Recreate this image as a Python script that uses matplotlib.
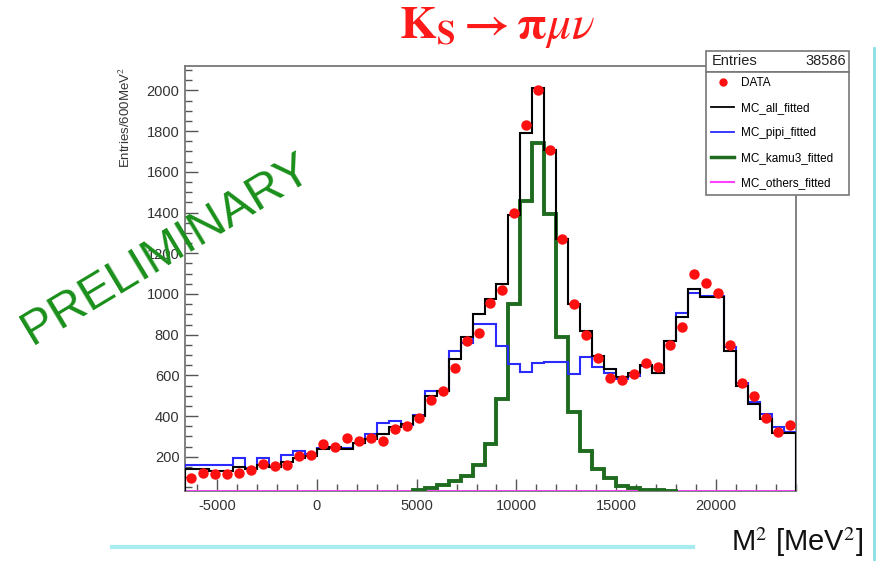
import numpy as np
import matplotlib.pyplot as plt
from matplotlib.lines import Line2D
from matplotlib.patches import Rectangle
from matplotlib.ticker import MultipleLocator

plt.rcParams['font.family'] = ['Liberation Sans', 'DejaVu Sans']
plt.rcParams['mathtext.fontset'] = 'stix'
plt.rcParams['axes.unicode_minus'] = False

# histogram binning (MeV^2)
bin_lo = -6600
bin_width = 600
n_bins = 51

data = [98, 122, 115, 115, 118, 134, 164, 155, 160, 205, 208, 262, 246,
        292, 278, 290, 278, 336, 352, 393, 478, 521, 636, 770, 808, 954,
        1018, 1397, 1828, 2003, 1705, 1270, 952, 798, 685, 587, 577, 606,
        660, 639, 751, 839, 1100, 1052, 1003, 751, 565, 500, 393, 324, 356]

mc_all = [140, 140, 128, 128, 150, 140, 160, 150, 175, 195, 205, 240, 246,
          237, 270, 287, 311, 344, 360, 401, 500, 524, 680, 787, 900, 975,
          1049, 1390, 1790, 2013, 1705, 1270, 950, 816, 697, 631, 593, 614,
          652, 614, 767, 885, 1025, 983, 983, 721, 549, 459, 385, 319, 319]

mc_pipi = [160, 160, 160, 160, 196, 145, 193, 150, 210, 230, 215, 242, 242,
           245, 270, 310, 365, 375, 355, 405, 522, 525, 720, 760, 852, 852,
           744, 656, 619, 659, 664, 664, 606, 688, 639, 614, 582, 598, 647,
           614, 767, 905, 1005, 990, 990, 741, 565, 467, 410, 344, 324]

mc_kamu3 = [0, 0, 0, 0, 0, 0, 0, 0, 0, 0, 0, 0, 0, 0, 0, 0, 0, 0, 0,
            36, 46, 60, 80, 105, 159, 262, 484, 951, 1459, 1741, 1393, 787,
            422, 229, 139, 95, 57, 45, 38, 35, 34, 0, 0, 0, 0, 0, 0, 0, 0, 0, 0]

mc_others = [33] * n_bins

entries = 38586

edges = bin_lo + bin_width * np.arange(n_bins + 1)
centers = 0.5 * (edges[:-1] + edges[1:])

fig = plt.figure(figsize=(8.79, 5.61), dpi=100)
ax = fig.add_axes([185 / 879, 1 - 491 / 561, 611 / 879, 425 / 561])

ax.stairs(mc_others, edges, color='#ff40ff', lw=2, zorder=2.7)
ax.stairs(mc_kamu3, edges, color='#1f6b1f', lw=2.8, zorder=3)
ax.stairs(mc_pipi, edges, color='#2a2aff', lw=1.5, zorder=4)
ax.stairs(mc_all, edges, color='black', lw=1.5, zorder=5)
ax.plot(centers, data, 'o', color='#ff1010', ms=7.5, mec='none', zorder=6)

ax.set_xlim(edges[0], edges[-1])
ax.set_ylim(32, 2120)
ax.xaxis.set_major_locator(MultipleLocator(5000))
ax.xaxis.set_minor_locator(MultipleLocator(1000))
ax.yaxis.set_major_locator(MultipleLocator(200))
ax.yaxis.set_minor_locator(MultipleLocator(50))
ax.tick_params(which='both', direction='in', color='#555555', width=1,
               labelsize=10.5, labelcolor='#333333')
ax.tick_params(which='major', length=9)
ax.tick_params(which='minor', length=5)
ax.tick_params(axis='x', pad=6)
ax.tick_params(axis='y', pad=4)
for s in ax.spines.values():
    s.set_color('#777777')
    s.set_linewidth(1.3)

fig.text(125 / 879, 1 - 67 / 561, 'Entries/600MeV$^2$', rotation=90,
         ha='center', va='top', fontsize=9.5, color='#333333')

# title
fig.text(497 / 879, 1 - 27 / 561, r'$\mathbf{K_S \rightarrow \pi}\mathit{\mu\nu}$',
         ha='center', va='center', fontsize=34, color='#ff1a1a')

# x axis title
fig.text(863 / 879, 1 - 542 / 561, r'M$^2$ [MeV$^2$]', ha='right', va='center',
         fontsize=21, color='#111111')

# decoration lines
fig.add_artist(Line2D([112 / 879, 693 / 879], [1 - 547 / 561, 1 - 547 / 561],
                      color='#a8ecf0', lw=3))
fig.add_artist(Line2D([874 / 879, 874 / 879], [1 - 48 / 561, 0],
                      color='#8adfe6', lw=2))

fig.text(166 / 879, 1 - 250 / 561, 'PRELIMINARY', rotation=31,
         rotation_mode='anchor', ha='center', va='center', fontsize=35,
         color='#1a8f1a')

# stats box + legend
bx0, bx1 = 706 / 879, 849 / 879
fig.add_artist(Rectangle((bx0, 1 - 72 / 561), bx1 - bx0, 21 / 561,
                         transform=fig.transFigure, facecolor='white',
                         edgecolor='#777777', lw=1.2, zorder=10))
fig.text(712 / 879, 1 - 61 / 561, 'Entries', fontsize=10.5, va='center',
         color='#222222', zorder=11)
fig.text(846 / 879, 1 - 61 / 561, str(entries), fontsize=10.5, va='center',
         ha='right', color='#222222', zorder=11)

handles = [
    Line2D([], [], ls='none', marker='o', color='#ff1010', ms=6, mec='none'),
    Line2D([], [], color='black', lw=1.3),
    Line2D([], [], color='#2a2aff', lw=1.3),
    Line2D([], [], color='#1f6b1f', lw=2.5),
    Line2D([], [], color='#ff40ff', lw=1.5),
]
labels = ['DATA', 'MC_all_fitted', 'MC_pipi_fitted', 'MC_kamu3_fitted',
          'MC_others_fitted']
leg = fig.legend(handles, labels, loc='upper left',
                 bbox_to_anchor=(bx0, 1 - 194 / 561, bx1 - bx0, 122 / 561),
                 mode='expand', fontsize=8.5, frameon=True, fancybox=False,
                 edgecolor='#777777', framealpha=1, borderaxespad=0,
                 handlelength=1.95, handletextpad=0.6, labelspacing=1.1,
                 borderpad=0.45)
leg.get_frame().set_linewidth(1.2)
leg.set_zorder(10)

fig.savefig('out.png', dpi=100)
